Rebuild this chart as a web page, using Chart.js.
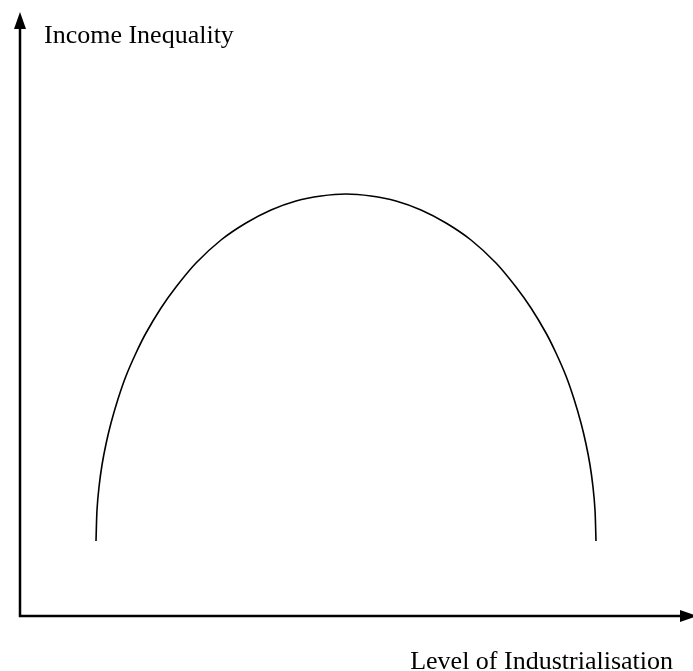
<!DOCTYPE html>
<html>
<head>
<meta charset="utf-8">
<script src="https://cdn.jsdelivr.net/npm/chart.js@4/dist/chart.umd.min.js"></script>
<style>
html,body{margin:0;padding:0;background:#fff;}
#wrap{width:693px;height:671px;position:relative;}
</style>
</head>
<body>
<div id="wrap"><canvas id="c" width="693" height="671"></canvas></div>
<script>
// Level of industrialisation (x) and income inequality (y)
const industrialisation = [76,77,79,82,86,91,98,106,116,126,141,156,176,201,226,251,276,301,326,351,376,401,426,451,476,496,511,526,536,546,554,561,566,570,573,575,576];
const inequality       = [75,106,129,151,172,193,217,240,263,283,308,329,353,376,393,406,415,420,422,420,415,406,393,376,353,329,308,283,263,240,217,193,172,151,129,106,75];
const xAxisTitle = 'Level of Industrialisation';
const yAxisTitle = 'Income Inequality';
const xRange = [0, 673];
const yRange = [0, 604];

const points = industrialisation.map((x, i) => ({x: x, y: inequality[i]}));

const axesPlugin = {
  id: 'axesArrows',
  afterDraw(chart) {
    const {ctx, chartArea: a} = chart;
    ctx.save();
    ctx.strokeStyle = '#000';
    ctx.fillStyle = '#000';
    ctx.lineWidth = 2.5;
    ctx.beginPath();
    ctx.moveTo(a.left, a.top + 10);
    ctx.lineTo(a.left, a.bottom);
    ctx.lineTo(a.right - 10, a.bottom);
    ctx.stroke();
    // y arrow
    ctx.beginPath();
    ctx.moveTo(a.left, a.top);
    ctx.lineTo(a.left - 6, a.top + 17);
    ctx.lineTo(a.left + 6, a.top + 17);
    ctx.closePath();
    ctx.fill();
    // x arrow
    ctx.beginPath();
    ctx.moveTo(a.right + 4, a.bottom);
    ctx.lineTo(a.right - 13, a.bottom - 6);
    ctx.lineTo(a.right - 13, a.bottom + 6);
    ctx.closePath();
    ctx.fill();
    // axis titles
    ctx.font = '26px "Liberation Serif", "Times New Roman", serif';
    ctx.textBaseline = 'alphabetic';
    ctx.textAlign = 'left';
    ctx.fillText(yAxisTitle, 44, 43);
    ctx.textAlign = 'right';
    ctx.fillText(xAxisTitle, 673, 669);
    ctx.restore();
  }
};

new Chart(document.getElementById('c'), {
  type: 'scatter',
  data: {
    datasets: [{
      data: points,
      showLine: true,
      borderColor: '#000',
      borderWidth: 1.6,
      pointRadius: 0,
      tension: 0.3,
      fill: false
    }]
  },
  options: {
    responsive: false,
    animation: false,
    layout: {padding: {left: 20, top: 12, right: 0, bottom: 55}},
    plugins: {legend: {display: false}, tooltip: {enabled: false}},
    scales: {
      x: {type: 'linear', display: false, min: xRange[0], max: xRange[1]},
      y: {type: 'linear', display: false, min: yRange[0], max: yRange[1]}
    }
  },
  plugins: [axesPlugin]
});
</script>
</body>
</html>
